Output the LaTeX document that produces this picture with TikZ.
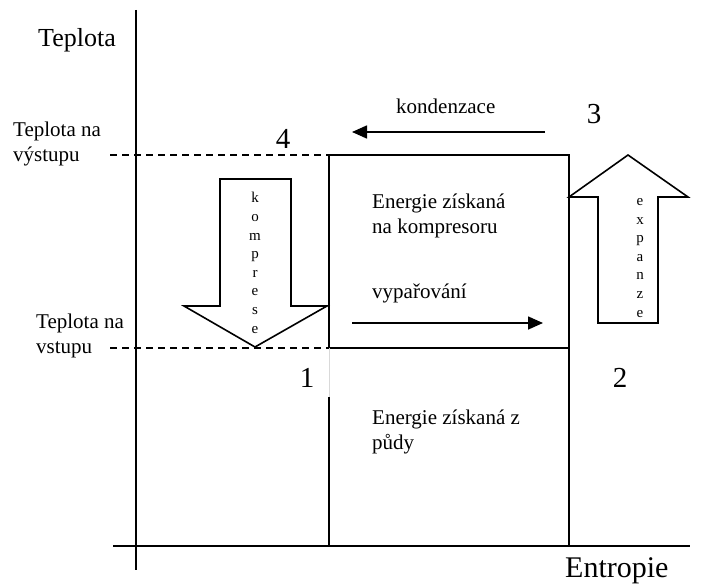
\documentclass[tikz,border=0pt]{standalone}
\usepackage{fontspec}
\setmainfont{Liberation Serif}
\usetikzlibrary{arrows.meta}
\tikzset{
  ln/.style={line width=1.6pt},
  axis/.style={line width=1.5pt},
  dash line/.style={line width=1.4pt, dash pattern=on 7pt off 5pt},
  flow/.style={line width=1.6pt, -{Triangle[length=15pt,width=13pt]}},
  bigarrow/.style={line width=1.6pt, line join=miter, fill=white},
  lbl/.style={inner sep=0pt, anchor=base west, align=left, font=\fontsize{21}{24.5}\selectfont},
  axlbl/.style={inner sep=0pt, anchor=base west},
  num/.style={inner sep=0pt, anchor=base, font=\fontsize{29}{30}\selectfont},
  vert/.style={inner sep=0pt, anchor=base, align=center, font=\fontsize{15}{18.6}\selectfont}
}
\begin{document}
\begin{tikzpicture}[x=1pt,y=-1pt]
\useasboundingbox (0,0) rectangle (706,586);
% coordinates
\coordinate (ytop) at (136,10);
\coordinate (ybot) at (136,570);
\coordinate (xl) at (113,546);
\coordinate (xr) at (690,546);
\coordinate (A) at (329,155);
\coordinate (B) at (569,155);
\coordinate (C) at (569,546);
\coordinate (D) at (329,348);
\coordinate (E) at (569,348);
\coordinate (F) at (329,397);
\coordinate (G) at (329,546);
\coordinate (dA) at (110,155);
\coordinate (dD) at (110,348);
% axes
\draw[axis] (ytop) -- (ybot);
\draw[axis] (xl) -- (xr);
% box
\draw[ln] (A) -- (B) -- (C);
\draw[ln] (A) -- (D) -- (E);
\draw[ln] (F) -- (G);
\draw[line width=0.6pt, black!15] (D) -- (F);
% dashed
\draw[dash line] (dA) -- (A);
\draw[dash line] (dD) -- (D);
% big arrows
\draw[bigarrow] (220,179) -- (291,179) -- (291,306) -- (327,306) -- (255,347) -- (184,306) -- (220,306) -- cycle;
\draw[bigarrow] (598,323) -- (658,323) -- (658,197) -- (688,197) -- (628,155) -- (569,197) -- (598,197) -- cycle;
\node[vert] (komp) at (255,333) {k\\o\\m\\p\\r\\e\\s\\e};
\node[vert] (exp) at (640,317) {e\\x\\p\\a\\n\\z\\e};
% flow arrows
\coordinate (k1) at (545,132);
\coordinate (k2) at (352,132);
\coordinate (v1) at (352,323);
\coordinate (v2) at (543,323);
\draw[flow] (k1) -- (k2);
\draw[flow] (v1) -- (v2);
% labels
\node[axlbl, font=\fontsize{26}{30}\selectfont] (tep) at (38,47) {Teplota};
\node[axlbl, font=\fontsize{30}{34}\selectfont] (ent) at (565,577) {Entropie};
\node[lbl] (tvy) at (13,161) {Teplota na\\výstupu};
\node[lbl] (tvs) at (36,353) {Teplota na\\vstupu};
\node[lbl] (kon) at (396,113) {kondenzace};
\node[lbl] (ek) at (372,233) {Energie získaná\\na kompresoru};
\node[lbl] (vyp) at (372,298) {vypařování};
\node[lbl] (ep) at (372,449) {Energie získaná z\\půdy};
\node[num] (n4) at (283,148) {4};
\node[num] (n3) at (594,123) {3};
\node[num] (n1) at (307,387) {1};
\node[num] (n2) at (620,387) {2};
\end{tikzpicture}
\end{document}
